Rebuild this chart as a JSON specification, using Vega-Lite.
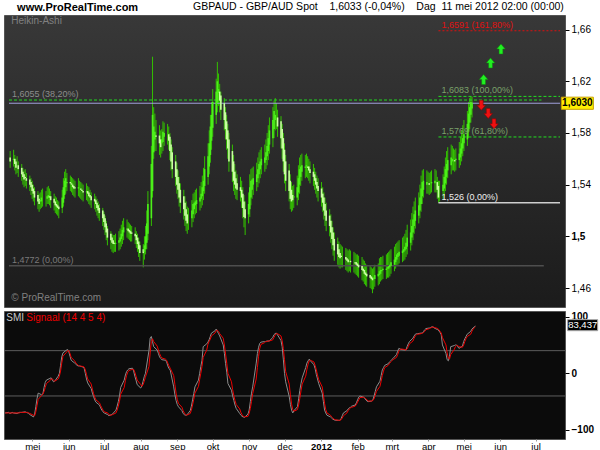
{
"$schema":"https://vega.github.io/schema/vega-lite/v6.json",
"background":"white",
"padding":{"left":2,"top":1,"right":0,"bottom":0},
"spacing":2,
"config":{"font":"Liberation Sans","view":{"stroke":"#555"},"axis":{"grid":false}},
"datasets":{
"ha":[
{"d":"2011-04-08","o":1.561,"h":1.566,"l":1.553,"c":1.558,"s":-70,"g":-70},
{"d":"2011-04-11","o":1.559,"h":1.567,"l":1.554,"c":1.560,"s":-69,"g":-70},
{"d":"2011-04-12","o":1.560,"h":1.563,"l":1.551,"c":1.556,"s":-71,"g":-70},
{"d":"2011-04-13","o":1.558,"h":1.560,"l":1.548,"c":1.553,"s":-70,"g":-70},
{"d":"2011-04-14","o":1.555,"h":1.562,"l":1.549,"c":1.555,"s":-69,"g":-70},
{"d":"2011-04-15","o":1.555,"h":1.558,"l":1.546,"c":1.552,"s":-70,"g":-70},
{"d":"2011-04-18","o":1.553,"h":1.556,"l":1.543,"c":1.548,"s":-71,"g":-70},
{"d":"2011-04-19","o":1.550,"h":1.553,"l":1.540,"c":1.546,"s":-70,"g":-70},
{"d":"2011-04-20","o":1.548,"h":1.551,"l":1.538,"c":1.544,"s":-69,"g":-70},
{"d":"2011-04-21","o":1.546,"h":1.552,"l":1.539,"c":1.545,"s":-69,"g":-69},
{"d":"2011-04-22","o":1.545,"h":1.549,"l":1.537,"c":1.543,"s":-69,"g":-69},
{"d":"2011-04-25","o":1.544,"h":1.547,"l":1.535,"c":1.540,"s":-68,"g":-69},
{"d":"2011-04-26","o":1.542,"h":1.545,"l":1.532,"c":1.538,"s":-69,"g":-69},
{"d":"2011-04-27","o":1.540,"h":1.543,"l":1.529,"c":1.535,"s":-70,"g":-69},
{"d":"2011-04-28","o":1.537,"h":1.540,"l":1.527,"c":1.533,"s":-71,"g":-70},
{"d":"2011-04-29","o":1.535,"h":1.538,"l":1.524,"c":1.530,"s":-73,"g":-71},
{"d":"2011-05-02","o":1.532,"h":1.535,"l":1.521,"c":1.527,"s":-77,"g":-74},
{"d":"2011-05-03","o":1.529,"h":1.533,"l":1.519,"c":1.525,"s":-72,"g":-75},
{"d":"2011-05-04","o":1.527,"h":1.534,"l":1.521,"c":1.528,"s":-59,"g":-68},
{"d":"2011-05-05","o":1.527,"h":1.536,"l":1.522,"c":1.530,"s":-45,"g":-57},
{"d":"2011-05-06","o":1.529,"h":1.537,"l":1.523,"c":1.529,"s":-35,"g":-46},
{"d":"2011-05-09","o":1.529,"h":1.535,"l":1.523,"c":1.529,"s":-38,"g":-39},
{"d":"2011-05-10","o":1.529,"h":1.538,"l":1.525,"c":1.531,"s":-36,"g":-37},
{"d":"2011-05-11","o":1.530,"h":1.539,"l":1.525,"c":1.532,"s":-25,"g":-32},
{"d":"2011-05-12","o":1.531,"h":1.537,"l":1.524,"c":1.530,"s":-16,"g":-25},
{"d":"2011-05-13","o":1.531,"h":1.535,"l":1.522,"c":1.528,"s":-12,"g":-18},
{"d":"2011-05-16","o":1.529,"h":1.533,"l":1.520,"c":1.526,"s":-9,"g":-13},
{"d":"2011-05-17","o":1.527,"h":1.531,"l":1.518,"c":1.524,"s":-8,"g":-10},
{"d":"2011-05-18","o":1.525,"h":1.530,"l":1.517,"c":1.523,"s":-12,"g":-10},
{"d":"2011-05-19","o":1.524,"h":1.528,"l":1.516,"c":1.522,"s":-15,"g":-12},
{"d":"2011-05-20","o":1.523,"h":1.527,"l":1.514,"c":1.521,"s":-14,"g":-14},
{"d":"2011-05-23","o":1.522,"h":1.536,"l":1.518,"c":1.530,"s":-5,"g":-10},
{"d":"2011-05-24","o":1.526,"h":1.545,"l":1.523,"c":1.538,"s":0,"g":-5},
{"d":"2011-05-25","o":1.532,"h":1.550,"l":1.529,"c":1.543,"s":14,"g":4},
{"d":"2011-05-26","o":1.538,"h":1.552,"l":1.533,"c":1.545,"s":29,"g":18},
{"d":"2011-05-27","o":1.541,"h":1.549,"l":1.535,"c":1.542,"s":36,"g":30},
{"d":"2011-05-30","o":1.542,"h":1.547,"l":1.535,"c":1.541,"s":41,"g":37},
{"d":"2011-05-31","o":1.541,"h":1.546,"l":1.534,"c":1.540,"s":42,"g":40},
{"d":"2011-06-01","o":1.540,"h":1.545,"l":1.532,"c":1.538,"s":38,"g":40},
{"d":"2011-06-02","o":1.539,"h":1.544,"l":1.531,"c":1.537,"s":30,"g":35},
{"d":"2011-06-03","o":1.538,"h":1.543,"l":1.530,"c":1.537,"s":23,"g":28},
{"d":"2011-06-06","o":1.537,"h":1.545,"l":1.531,"c":1.538,"s":18,"g":22},
{"d":"2011-06-07","o":1.537,"h":1.543,"l":1.530,"c":1.537,"s":16,"g":18},
{"d":"2011-06-08","o":1.537,"h":1.542,"l":1.529,"c":1.536,"s":14,"g":16},
{"d":"2011-06-09","o":1.536,"h":1.541,"l":1.528,"c":1.535,"s":13,"g":14},
{"d":"2011-06-10","o":1.535,"h":1.540,"l":1.527,"c":1.534,"s":13,"g":13},
{"d":"2011-06-13","o":1.534,"h":1.541,"l":1.528,"c":1.535,"s":11,"g":12},
{"d":"2011-06-14","o":1.535,"h":1.539,"l":1.527,"c":1.533,"s":9,"g":11},
{"d":"2011-06-15","o":1.534,"h":1.538,"l":1.525,"c":1.531,"s":0,"g":6},
{"d":"2011-06-16","o":1.532,"h":1.536,"l":1.524,"c":1.530,"s":-10,"g":-2},
{"d":"2011-06-17","o":1.531,"h":1.534,"l":1.522,"c":1.528,"s":-17,"g":-10},
{"d":"2011-06-20","o":1.529,"h":1.533,"l":1.521,"c":1.527,"s":-27,"g":-19},
{"d":"2011-06-21","o":1.528,"h":1.531,"l":1.519,"c":1.525,"s":-35,"g":-28},
{"d":"2011-06-22","o":1.526,"h":1.529,"l":1.516,"c":1.522,"s":-41,"g":-36},
{"d":"2011-06-23","o":1.524,"h":1.527,"l":1.514,"c":1.520,"s":-47,"g":-42},
{"d":"2011-06-24","o":1.522,"h":1.525,"l":1.512,"c":1.518,"s":-51,"g":-47},
{"d":"2011-06-27","o":1.520,"h":1.522,"l":1.508,"c":1.514,"s":-56,"g":-52},
{"d":"2011-06-28","o":1.517,"h":1.519,"l":1.505,"c":1.511,"s":-61,"g":-57},
{"d":"2011-06-29","o":1.514,"h":1.516,"l":1.501,"c":1.507,"s":-65,"g":-61},
{"d":"2011-06-30","o":1.510,"h":1.512,"l":1.497,"c":1.503,"s":-68,"g":-65},
{"d":"2011-07-01","o":1.506,"h":1.508,"l":1.493,"c":1.499,"s":-70,"g":-68},
{"d":"2011-07-04","o":1.502,"h":1.504,"l":1.490,"c":1.497,"s":-73,"g":-70},
{"d":"2011-07-05","o":1.499,"h":1.502,"l":1.488,"c":1.495,"s":-75,"g":-73},
{"d":"2011-07-06","o":1.497,"h":1.501,"l":1.487,"c":1.494,"s":-74,"g":-74},
{"d":"2011-07-07","o":1.495,"h":1.501,"l":1.488,"c":1.494,"s":-73,"g":-74},
{"d":"2011-07-08","o":1.494,"h":1.502,"l":1.488,"c":1.495,"s":-72,"g":-73},
{"d":"2011-07-11","o":1.495,"h":1.504,"l":1.489,"c":1.497,"s":-65,"g":-70},
{"d":"2011-07-12","o":1.496,"h":1.506,"l":1.490,"c":1.499,"s":-58,"g":-65},
{"d":"2011-07-13","o":1.498,"h":1.509,"l":1.492,"c":1.502,"s":-50,"g":-58},
{"d":"2011-07-14","o":1.500,"h":1.512,"l":1.494,"c":1.505,"s":-40,"g":-49},
{"d":"2011-07-15","o":1.503,"h":1.514,"l":1.497,"c":1.507,"s":-25,"g":-37},
{"d":"2011-07-18","o":1.505,"h":1.513,"l":1.499,"c":1.506,"s":-12,"g":-25},
{"d":"2011-07-19","o":1.506,"h":1.511,"l":1.498,"c":1.504,"s":-3,"g":-13},
{"d":"2011-07-20","o":1.505,"h":1.510,"l":1.497,"c":1.503,"s":3,"g":-4},
{"d":"2011-07-21","o":1.504,"h":1.509,"l":1.496,"c":1.502,"s":6,"g":2},
{"d":"2011-07-22","o":1.503,"h":1.508,"l":1.496,"c":1.502,"s":8,"g":5},
{"d":"2011-07-25","o":1.502,"h":1.507,"l":1.494,"c":1.500,"s":9,"g":7},
{"d":"2011-07-26","o":1.501,"h":1.504,"l":1.491,"c":1.497,"s":4,"g":7},
{"d":"2011-07-27","o":1.499,"h":1.502,"l":1.488,"c":1.494,"s":-5,"g":2},
{"d":"2011-07-28","o":1.496,"h":1.499,"l":1.484,"c":1.490,"s":-12,"g":-5},
{"d":"2011-07-29","o":1.493,"h":1.496,"l":1.481,"c":1.487,"s":-20,"g":-12},
{"d":"2011-08-01","o":1.490,"h":1.494,"l":1.476,"c":1.487,"s":-26,"g":-20},
{"d":"2011-08-02","o":1.488,"h":1.500,"l":1.482,"c":1.493,"s":-22,"g":-23},
{"d":"2011-08-03","o":1.490,"h":1.508,"l":1.486,"c":1.500,"s":-14,"g":-20},
{"d":"2011-08-04","o":1.495,"h":1.520,"l":1.490,"c":1.510,"s":-6,"g":-14},
{"d":"2011-08-05","o":1.502,"h":1.535,"l":1.497,"c":1.525,"s":0,"g":-7},
{"d":"2011-08-08","o":1.514,"h":1.570,"l":1.508,"c":1.556,"s":40,"g":12},
{"d":"2011-08-09","o":1.535,"h":1.639,"l":1.530,"c":1.594,"s":62,"g":36},
{"d":"2011-08-10","o":1.565,"h":1.600,"l":1.560,"c":1.585,"s":65,"g":56},
{"d":"2011-08-11","o":1.575,"h":1.595,"l":1.566,"c":1.581,"s":56,"g":61},
{"d":"2011-08-12","o":1.578,"h":1.590,"l":1.566,"c":1.577,"s":47,"g":56},
{"d":"2011-08-15","o":1.578,"h":1.586,"l":1.563,"c":1.572,"s":41,"g":48},
{"d":"2011-08-16","o":1.575,"h":1.582,"l":1.561,"c":1.569,"s":35,"g":41},
{"d":"2011-08-17","o":1.572,"h":1.583,"l":1.564,"c":1.575,"s":29,"g":35},
{"d":"2011-08-18","o":1.573,"h":1.589,"l":1.566,"c":1.581,"s":26,"g":30},
{"d":"2011-08-19","o":1.577,"h":1.588,"l":1.570,"c":1.580,"s":24,"g":27},
{"d":"2011-08-22","o":1.579,"h":1.587,"l":1.571,"c":1.579,"s":23,"g":25},
{"d":"2011-08-23","o":1.579,"h":1.585,"l":1.567,"c":1.574,"s":20,"g":23},
{"d":"2011-08-24","o":1.577,"h":1.580,"l":1.559,"c":1.566,"s":13,"g":18},
{"d":"2011-08-25","o":1.571,"h":1.575,"l":1.551,"c":1.558,"s":8,"g":13},
{"d":"2011-08-26","o":1.565,"h":1.569,"l":1.545,"c":1.552,"s":6,"g":9},
{"d":"2011-08-29","o":1.558,"h":1.563,"l":1.539,"c":1.546,"s":-24,"g":-4},
{"d":"2011-08-30","o":1.552,"h":1.557,"l":1.533,"c":1.540,"s":-38,"g":-20},
{"d":"2011-08-31","o":1.546,"h":1.551,"l":1.529,"c":1.536,"s":-48,"g":-35},
{"d":"2011-09-01","o":1.541,"h":1.546,"l":1.523,"c":1.530,"s":-55,"g":-46},
{"d":"2011-09-02","o":1.536,"h":1.541,"l":1.518,"c":1.526,"s":-59,"g":-53},
{"d":"2011-09-05","o":1.531,"h":1.536,"l":1.513,"c":1.521,"s":-66,"g":-60},
{"d":"2011-09-06","o":1.526,"h":1.531,"l":1.508,"c":1.516,"s":-71,"g":-66},
{"d":"2011-09-07","o":1.521,"h":1.527,"l":1.504,"c":1.512,"s":-73,"g":-70},
{"d":"2011-09-08","o":1.517,"h":1.523,"l":1.502,"c":1.510,"s":-74,"g":-73},
{"d":"2011-09-09","o":1.514,"h":1.522,"l":1.505,"c":1.514,"s":-74,"g":-74},
{"d":"2011-09-12","o":1.514,"h":1.528,"l":1.507,"c":1.520,"s":-66,"g":-71},
{"d":"2011-09-13","o":1.517,"h":1.533,"l":1.511,"c":1.525,"s":-58,"g":-65},
{"d":"2011-09-14","o":1.521,"h":1.534,"l":1.514,"c":1.526,"s":-47,"g":-56},
{"d":"2011-09-15","o":1.524,"h":1.536,"l":1.517,"c":1.527,"s":-36,"g":-46},
{"d":"2011-09-16","o":1.525,"h":1.537,"l":1.518,"c":1.528,"s":-24,"g":-35},
{"d":"2011-09-19","o":1.527,"h":1.539,"l":1.520,"c":1.530,"s":-12,"g":-23},
{"d":"2011-09-20","o":1.529,"h":1.542,"l":1.522,"c":1.533,"s":0,"g":-11},
{"d":"2011-09-21","o":1.531,"h":1.547,"l":1.524,"c":1.538,"s":12,"g":0},
{"d":"2011-09-22","o":1.535,"h":1.553,"l":1.528,"c":1.543,"s":23,"g":12},
{"d":"2011-09-23","o":1.539,"h":1.562,"l":1.533,"c":1.552,"s":47,"g":28},
{"d":"2011-09-26","o":1.546,"h":1.572,"l":1.540,"c":1.562,"s":52,"g":41},
{"d":"2011-09-27","o":1.554,"h":1.582,"l":1.548,"c":1.572,"s":55,"g":51},
{"d":"2011-09-28","o":1.563,"h":1.594,"l":1.557,"c":1.585,"s":59,"g":56},
{"d":"2011-09-29","o":1.574,"h":1.604,"l":1.567,"c":1.594,"s":65,"g":60},
{"d":"2011-09-30","o":1.584,"h":1.614,"l":1.577,"c":1.604,"s":71,"g":66},
{"d":"2011-10-03","o":1.594,"h":1.622,"l":1.587,"c":1.612,"s":75,"g":71},
{"d":"2011-10-04","o":1.603,"h":1.635,"l":1.596,"c":1.620,"s":78,"g":75},
{"d":"2011-10-05","o":1.611,"h":1.626,"l":1.601,"c":1.614,"s":74,"g":76},
{"d":"2011-10-06","o":1.612,"h":1.618,"l":1.596,"c":1.605,"s":70,"g":74},
{"d":"2011-10-07","o":1.609,"h":1.612,"l":1.590,"c":1.598,"s":66,"g":70},
{"d":"2011-10-10","o":1.603,"h":1.607,"l":1.582,"c":1.590,"s":50,"g":62},
{"d":"2011-10-11","o":1.596,"h":1.600,"l":1.575,"c":1.583,"s":35,"g":50},
{"d":"2011-10-12","o":1.589,"h":1.594,"l":1.567,"c":1.575,"s":17,"g":34},
{"d":"2011-10-13","o":1.582,"h":1.587,"l":1.560,"c":1.568,"s":2,"g":18},
{"d":"2011-10-14","o":1.575,"h":1.580,"l":1.550,"c":1.558,"s":-18,"g":0},
{"d":"2011-10-17","o":1.566,"h":1.571,"l":1.542,"c":1.550,"s":-30,"g":-15},
{"d":"2011-10-18","o":1.558,"h":1.563,"l":1.535,"c":1.543,"s":-40,"g":-29},
{"d":"2011-10-19","o":1.550,"h":1.556,"l":1.532,"c":1.540,"s":-48,"g":-39},
{"d":"2011-10-20","o":1.545,"h":1.551,"l":1.529,"c":1.537,"s":-56,"g":-48},
{"d":"2011-10-21","o":1.541,"h":1.548,"l":1.528,"c":1.536,"s":-62,"g":-55},
{"d":"2011-10-24","o":1.538,"h":1.546,"l":1.527,"c":1.535,"s":-71,"g":-63},
{"d":"2011-10-25","o":1.536,"h":1.543,"l":1.522,"c":1.530,"s":-74,"g":-69},
{"d":"2011-10-26","o":1.533,"h":1.538,"l":1.514,"c":1.522,"s":-76,"g":-73},
{"d":"2011-10-27","o":1.527,"h":1.532,"l":1.507,"c":1.515,"s":-77,"g":-76},
{"d":"2011-10-28","o":1.521,"h":1.527,"l":1.501,"c":1.514,"s":-78,"g":-77},
{"d":"2011-10-31","o":1.517,"h":1.534,"l":1.510,"c":1.525,"s":-72,"g":-76},
{"d":"2011-11-01","o":1.521,"h":1.548,"l":1.515,"c":1.538,"s":-65,"g":-71},
{"d":"2011-11-02","o":1.530,"h":1.552,"l":1.524,"c":1.543,"s":-50,"g":-62},
{"d":"2011-11-03","o":1.536,"h":1.553,"l":1.529,"c":1.544,"s":-35,"g":-50},
{"d":"2011-11-04","o":1.540,"h":1.554,"l":1.532,"c":1.545,"s":-24,"g":-36},
{"d":"2011-11-07","o":1.542,"h":1.557,"l":1.535,"c":1.548,"s":18,"g":-10},
{"d":"2011-11-08","o":1.545,"h":1.561,"l":1.538,"c":1.552,"s":35,"g":10},
{"d":"2011-11-09","o":1.548,"h":1.565,"l":1.541,"c":1.556,"s":46,"g":30},
{"d":"2011-11-10","o":1.552,"h":1.567,"l":1.545,"c":1.558,"s":53,"g":44},
{"d":"2011-11-11","o":1.555,"h":1.569,"l":1.548,"c":1.560,"s":55,"g":51},
{"d":"2011-11-14","o":1.557,"h":1.571,"l":1.550,"c":1.561,"s":56,"g":54},
{"d":"2011-11-15","o":1.559,"h":1.575,"l":1.552,"c":1.565,"s":56,"g":56},
{"d":"2011-11-16","o":1.562,"h":1.580,"l":1.555,"c":1.570,"s":57,"g":56},
{"d":"2011-11-17","o":1.566,"h":1.586,"l":1.559,"c":1.576,"s":57,"g":57},
{"d":"2011-11-18","o":1.571,"h":1.592,"l":1.564,"c":1.582,"s":57,"g":57},
{"d":"2011-11-21","o":1.576,"h":1.600,"l":1.569,"c":1.590,"s":63,"g":59},
{"d":"2011-11-22","o":1.583,"h":1.605,"l":1.576,"c":1.597,"s":68,"g":63},
{"d":"2011-11-23","o":1.590,"h":1.607,"l":1.582,"c":1.594,"s":70,"g":67},
{"d":"2011-11-24","o":1.592,"h":1.603,"l":1.583,"c":1.592,"s":71,"g":70},
{"d":"2011-11-25","o":1.592,"h":1.598,"l":1.577,"c":1.585,"s":68,"g":70},
{"d":"2011-11-28","o":1.589,"h":1.593,"l":1.568,"c":1.576,"s":58,"g":66},
{"d":"2011-11-29","o":1.583,"h":1.587,"l":1.560,"c":1.568,"s":47,"g":58},
{"d":"2011-11-30","o":1.576,"h":1.580,"l":1.550,"c":1.558,"s":25,"g":44},
{"d":"2011-12-01","o":1.567,"h":1.572,"l":1.541,"c":1.548,"s":0,"g":24},
{"d":"2011-12-02","o":1.558,"h":1.563,"l":1.535,"c":1.543,"s":-15,"g":3},
{"d":"2011-12-05","o":1.551,"h":1.556,"l":1.527,"c":1.535,"s":-41,"g":-19},
{"d":"2011-12-06","o":1.543,"h":1.548,"l":1.521,"c":1.529,"s":-55,"g":-38},
{"d":"2011-12-07","o":1.536,"h":1.542,"l":1.519,"c":1.527,"s":-65,"g":-54},
{"d":"2011-12-08","o":1.532,"h":1.539,"l":1.520,"c":1.528,"s":-70,"g":-64},
{"d":"2011-12-09","o":1.530,"h":1.540,"l":1.522,"c":1.531,"s":-66,"g":-67},
{"d":"2011-12-12","o":1.530,"h":1.547,"l":1.524,"c":1.538,"s":-59,"g":-64},
{"d":"2011-12-13","o":1.534,"h":1.555,"l":1.528,"c":1.545,"s":-45,"g":-56},
{"d":"2011-12-14","o":1.540,"h":1.561,"l":1.533,"c":1.552,"s":-30,"g":-44},
{"d":"2011-12-15","o":1.546,"h":1.563,"l":1.539,"c":1.554,"s":-18,"g":-31},
{"d":"2011-12-16","o":1.550,"h":1.564,"l":1.543,"c":1.555,"s":-8,"g":-19},
{"d":"2011-12-19","o":1.553,"h":1.563,"l":1.545,"c":1.554,"s":10,"g":-5},
{"d":"2011-12-20","o":1.554,"h":1.564,"l":1.546,"c":1.555,"s":18,"g":7},
{"d":"2011-12-21","o":1.554,"h":1.562,"l":1.545,"c":1.553,"s":22,"g":16},
{"d":"2011-12-22","o":1.554,"h":1.560,"l":1.543,"c":1.551,"s":25,"g":22},
{"d":"2011-12-23","o":1.552,"h":1.558,"l":1.541,"c":1.549,"s":22,"g":23},
{"d":"2011-12-26","o":1.550,"h":1.556,"l":1.539,"c":1.546,"s":15,"g":20},
{"d":"2011-12-27","o":1.548,"h":1.553,"l":1.536,"c":1.543,"s":8,"g":14},
{"d":"2011-12-28","o":1.545,"h":1.550,"l":1.533,"c":1.540,"s":-2,"g":6},
{"d":"2011-12-29","o":1.542,"h":1.547,"l":1.530,"c":1.537,"s":-10,"g":-3},
{"d":"2011-12-30","o":1.539,"h":1.545,"l":1.527,"c":1.535,"s":-18,"g":-11},
{"d":"2012-01-02","o":1.537,"h":1.542,"l":1.523,"c":1.530,"s":-35,"g":-24},
{"d":"2012-01-03","o":1.533,"h":1.538,"l":1.519,"c":1.526,"s":-50,"g":-38},
{"d":"2012-01-04","o":1.530,"h":1.534,"l":1.513,"c":1.520,"s":-65,"g":-53},
{"d":"2012-01-05","o":1.525,"h":1.530,"l":1.508,"c":1.516,"s":-70,"g":-64},
{"d":"2012-01-06","o":1.520,"h":1.526,"l":1.504,"c":1.512,"s":-74,"g":-70},
{"d":"2012-01-09","o":1.516,"h":1.521,"l":1.500,"c":1.508,"s":-77,"g":-74},
{"d":"2012-01-10","o":1.512,"h":1.517,"l":1.495,"c":1.503,"s":-79,"g":-77},
{"d":"2012-01-11","o":1.507,"h":1.512,"l":1.490,"c":1.498,"s":-81,"g":-79},
{"d":"2012-01-12","o":1.503,"h":1.507,"l":1.485,"c":1.493,"s":-82,"g":-81},
{"d":"2012-01-13","o":1.498,"h":1.503,"l":1.481,"c":1.489,"s":-83,"g":-82},
{"d":"2012-01-16","o":1.494,"h":1.499,"l":1.478,"c":1.486,"s":-83,"g":-83},
{"d":"2012-01-17","o":1.490,"h":1.496,"l":1.476,"c":1.484,"s":-83,"g":-83},
{"d":"2012-01-18","o":1.487,"h":1.494,"l":1.475,"c":1.483,"s":-80,"g":-82},
{"d":"2012-01-19","o":1.485,"h":1.493,"l":1.476,"c":1.484,"s":-75,"g":-79},
{"d":"2012-01-20","o":1.484,"h":1.492,"l":1.476,"c":1.484,"s":-70,"g":-75},
{"d":"2012-01-23","o":1.484,"h":1.491,"l":1.474,"c":1.482,"s":-66,"g":-70},
{"d":"2012-01-24","o":1.483,"h":1.490,"l":1.473,"c":1.481,"s":-63,"g":-66},
{"d":"2012-01-25","o":1.482,"h":1.489,"l":1.472,"c":1.480,"s":-61,"g":-63},
{"d":"2012-01-26","o":1.481,"h":1.490,"l":1.473,"c":1.481,"s":-60,"g":-61},
{"d":"2012-01-27","o":1.481,"h":1.489,"l":1.472,"c":1.480,"s":-58,"g":-60},
{"d":"2012-01-30","o":1.480,"h":1.488,"l":1.472,"c":1.480,"s":-56,"g":-58},
{"d":"2012-01-31","o":1.480,"h":1.487,"l":1.471,"c":1.479,"s":-52,"g":-55},
{"d":"2012-02-01","o":1.480,"h":1.486,"l":1.470,"c":1.478,"s":-47,"g":-51},
{"d":"2012-02-02","o":1.479,"h":1.486,"l":1.469,"c":1.477,"s":-42,"g":-47},
{"d":"2012-02-03","o":1.478,"h":1.485,"l":1.468,"c":1.476,"s":-40,"g":-43},
{"d":"2012-02-06","o":1.477,"h":1.484,"l":1.466,"c":1.474,"s":-42,"g":-42},
{"d":"2012-02-07","o":1.475,"h":1.482,"l":1.465,"c":1.473,"s":-44,"g":-43},
{"d":"2012-02-08","o":1.474,"h":1.481,"l":1.463,"c":1.471,"s":-47,"g":-45},
{"d":"2012-02-09","o":1.472,"h":1.479,"l":1.462,"c":1.470,"s":-49,"g":-47},
{"d":"2012-02-10","o":1.471,"h":1.478,"l":1.461,"c":1.469,"s":-50,"g":-49},
{"d":"2012-02-13","o":1.470,"h":1.477,"l":1.460,"c":1.468,"s":-49,"g":-49},
{"d":"2012-02-14","o":1.469,"h":1.476,"l":1.459,"c":1.467,"s":-47,"g":-48},
{"d":"2012-02-15","o":1.468,"h":1.475,"l":1.456,"c":1.466,"s":-40,"g":-45},
{"d":"2012-02-16","o":1.467,"h":1.476,"l":1.459,"c":1.468,"s":-32,"g":-39},
{"d":"2012-02-17","o":1.467,"h":1.478,"l":1.461,"c":1.470,"s":-24,"g":-32},
{"d":"2012-02-20","o":1.469,"h":1.479,"l":1.462,"c":1.471,"s":-14,"g":-23},
{"d":"2012-02-21","o":1.470,"h":1.483,"l":1.463,"c":1.473,"s":-4,"g":-14},
{"d":"2012-02-22","o":1.471,"h":1.484,"l":1.465,"c":1.474,"s":6,"g":-4},
{"d":"2012-02-23","o":1.473,"h":1.484,"l":1.466,"c":1.474,"s":10,"g":4},
{"d":"2012-02-24","o":1.474,"h":1.485,"l":1.467,"c":1.475,"s":14,"g":10},
{"d":"2012-02-27","o":1.474,"h":1.486,"l":1.467,"c":1.475,"s":17,"g":14},
{"d":"2012-02-28","o":1.475,"h":1.487,"l":1.468,"c":1.476,"s":20,"g":17},
{"d":"2012-02-29","o":1.475,"h":1.488,"l":1.468,"c":1.477,"s":22,"g":20},
{"d":"2012-03-01","o":1.476,"h":1.489,"l":1.469,"c":1.478,"s":24,"g":22},
{"d":"2012-03-02","o":1.477,"h":1.490,"l":1.471,"c":1.480,"s":26,"g":24},
{"d":"2012-03-05","o":1.478,"h":1.492,"l":1.473,"c":1.482,"s":33,"g":28},
{"d":"2012-03-06","o":1.480,"h":1.494,"l":1.475,"c":1.484,"s":39,"g":33},
{"d":"2012-03-07","o":1.482,"h":1.495,"l":1.477,"c":1.486,"s":44,"g":39},
{"d":"2012-03-08","o":1.484,"h":1.496,"l":1.478,"c":1.487,"s":43,"g":42},
{"d":"2012-03-09","o":1.485,"h":1.497,"l":1.479,"c":1.488,"s":42,"g":43},
{"d":"2012-03-12","o":1.487,"h":1.499,"l":1.480,"c":1.489,"s":41,"g":42},
{"d":"2012-03-13","o":1.488,"h":1.500,"l":1.481,"c":1.490,"s":41,"g":41},
{"d":"2012-03-14","o":1.489,"h":1.502,"l":1.482,"c":1.492,"s":47,"g":43},
{"d":"2012-03-15","o":1.490,"h":1.505,"l":1.484,"c":1.495,"s":52,"g":47},
{"d":"2012-03-16","o":1.492,"h":1.509,"l":1.486,"c":1.499,"s":56,"g":52},
{"d":"2012-03-19","o":1.495,"h":1.513,"l":1.489,"c":1.503,"s":62,"g":57},
{"d":"2012-03-20","o":1.499,"h":1.518,"l":1.493,"c":1.508,"s":66,"g":62},
{"d":"2012-03-21","o":1.503,"h":1.523,"l":1.497,"c":1.513,"s":69,"g":66},
{"d":"2012-03-22","o":1.508,"h":1.527,"l":1.502,"c":1.517,"s":70,"g":68},
{"d":"2012-03-23","o":1.512,"h":1.530,"l":1.506,"c":1.520,"s":70,"g":69},
{"d":"2012-03-26","o":1.516,"h":1.534,"l":1.510,"c":1.524,"s":71,"g":70},
{"d":"2012-03-27","o":1.520,"h":1.540,"l":1.514,"c":1.530,"s":71,"g":71},
{"d":"2012-03-28","o":1.525,"h":1.547,"l":1.519,"c":1.537,"s":74,"g":72},
{"d":"2012-03-29","o":1.531,"h":1.551,"l":1.525,"c":1.542,"s":77,"g":74},
{"d":"2012-03-30","o":1.536,"h":1.552,"l":1.530,"c":1.543,"s":79,"g":77},
{"d":"2012-04-02","o":1.540,"h":1.551,"l":1.533,"c":1.542,"s":80,"g":79},
{"d":"2012-04-03","o":1.541,"h":1.550,"l":1.533,"c":1.541,"s":81,"g":80},
{"d":"2012-04-04","o":1.541,"h":1.549,"l":1.532,"c":1.540,"s":82,"g":81},
{"d":"2012-04-05","o":1.541,"h":1.550,"l":1.533,"c":1.541,"s":82,"g":82},
{"d":"2012-04-06","o":1.541,"h":1.551,"l":1.534,"c":1.542,"s":80,"g":81},
{"d":"2012-04-09","o":1.541,"h":1.552,"l":1.534,"c":1.543,"s":77,"g":79},
{"d":"2012-04-10","o":1.542,"h":1.551,"l":1.534,"c":1.542,"s":75,"g":77},
{"d":"2012-04-11","o":1.542,"h":1.546,"l":1.529,"c":1.536,"s":72,"g":74},
{"d":"2012-04-12","o":1.539,"h":1.543,"l":1.526,"c":1.530,"s":68,"g":71},
{"d":"2012-04-13","o":1.535,"h":1.543,"l":1.527,"c":1.535,"s":50,"g":63},
{"d":"2012-04-16","o":1.535,"h":1.548,"l":1.529,"c":1.540,"s":35,"g":50},
{"d":"2012-04-17","o":1.537,"h":1.554,"l":1.531,"c":1.546,"s":24,"g":36},
{"d":"2012-04-18","o":1.541,"h":1.561,"l":1.535,"c":1.552,"s":22,"g":27},
{"d":"2012-04-19","o":1.546,"h":1.566,"l":1.540,"c":1.556,"s":30,"g":25},
{"d":"2012-04-20","o":1.551,"h":1.569,"l":1.545,"c":1.559,"s":47,"g":33},
{"d":"2012-04-23","o":1.555,"h":1.571,"l":1.548,"c":1.561,"s":49,"g":42},
{"d":"2012-04-24","o":1.558,"h":1.570,"l":1.551,"c":1.560,"s":50,"g":47},
{"d":"2012-04-25","o":1.559,"h":1.568,"l":1.551,"c":1.559,"s":50,"g":49},
{"d":"2012-04-26","o":1.559,"h":1.567,"l":1.550,"c":1.558,"s":47,"g":49},
{"d":"2012-04-27","o":1.559,"h":1.568,"l":1.551,"c":1.560,"s":44,"g":47},
{"d":"2012-04-30","o":1.559,"h":1.573,"l":1.553,"c":1.564,"s":48,"g":46},
{"d":"2012-05-01","o":1.561,"h":1.577,"l":1.555,"c":1.568,"s":56,"g":50},
{"d":"2012-05-02","o":1.564,"h":1.582,"l":1.558,"c":1.572,"s":61,"g":56},
{"d":"2012-05-03","o":1.568,"h":1.586,"l":1.562,"c":1.576,"s":65,"g":61},
{"d":"2012-05-04","o":1.572,"h":1.590,"l":1.566,"c":1.579,"s":69,"g":65},
{"d":"2012-05-07","o":1.575,"h":1.597,"l":1.570,"c":1.587,"s":74,"g":69},
{"d":"2012-05-08","o":1.581,"h":1.604,"l":1.576,"c":1.595,"s":78,"g":74},
{"d":"2012-05-09","o":1.588,"h":1.607,"l":1.583,"c":1.600,"s":80,"g":78},
{"d":"2012-05-10","o":1.594,"h":1.6083,"l":1.588,"c":1.604,"s":82,"g":80},
{"d":"2012-05-11","o":1.599,"h":1.608,"l":1.592,"c":1.6033,"s":83.4,"g":82}
],
"lv":[
{"g":"p","a":"2011-04-07","b":"2012-07-26","y":1.603,"t":""},
{"g":"l","a":"2011-04-07","b":"2012-07-10","y":1.6055,"t":"1,6055 (38,20%)"},
{"g":"w","a":"2011-04-07","b":"2012-07-12","y":1.4772,"t":"1,4772 (0,00%)"},
{"g":"r","a":"2012-04-12","b":"2012-07-26","y":1.6591,"t":"1,6591 (161,80%)"},
{"g":"f","a":"2012-04-12","b":"2012-07-26","y":1.6083,"t":"1,6083 (100,00%)"},
{"g":"f","a":"2012-04-12","b":"2012-07-26","y":1.5769,"t":"1,5769 (61,80%)"},
{"g":"z","a":"2012-04-12","b":"2012-07-26","y":1.526,"t":"1,526 (0,00%)"}
],
"ar":[
{"d":"2012-05-21","y":1.6214,"k":"u"},
{"d":"2012-05-27","y":1.6342,"k":"u"},
{"d":"2012-06-05","y":1.645,"k":"u"},
{"d":"2012-05-19","y":1.6015,"k":"n"},
{"d":"2012-05-25","y":1.5951,"k":"n"},
{"d":"2012-05-30","y":1.5871,"k":"n"}
],
"nt":[
{"k":"ha","d":"2011-04-09","y":1.6664,"t":"Heikin-Ashi"},
{"k":"pr","d":"2011-04-09","y":1.4519,"t":"© ProRealTime.com"},
{"k":"h1","d":"2011-04-14","y":1.6713,"t":"www.ProRealTime.com"},
{"k":"h2","d":"2011-09-13","y":1.6713,"t":"GBPAUD - GBP/AUD Spot\u00a0\u00a0\u00a0 1,6033 (-0,04%)\u00a0\u00a0\u00a0 Dag\u00a0 11 mei 2012 02:00 (00:00)"},
{"k":"tag","d":"2012-08-10","y":1.603,"t":"1,6030"}
],
"bt":[
{"k":"smi","d":"2011-04-09","v":97.7,"t":"SMI"},
{"k":"sig","d":"2011-04-09","v":97.7,"t":"Signaal (14 4 5 4)"},
{"k":"tag","d":"2012-08-10","v":85,"t":"83,437"}
]
},
"vconcat":[
{
"width":561,"height":292,
"view":{"fill":{"gradient":"linear","x1":0,"y1":0,"x2":0,"y2":1,"stops":[{"offset":0,"color":"#383838"},{"offset":1,"color":"#1b1b1b"}]},"stroke":"#555"},
"layer":[
{"data":{"name":"ha"},"mark":{"type":"rule","color":"#33c000","strokeWidth":1},
 "encoding":{
  "x":{"field":"d","type":"temporal","scale":{"type":"utc","domain":[{"year":2011,"month":4,"date":7,"utc":true},{"year":2012,"month":7,"date":26,"utc":true}]},"axis":null},
  "y":{"field":"l","type":"quantitative","scale":{"domain":[1.4453,1.6713],"nice":false,"zero":false},
   "axis":{"orient":"right","title":null,"domain":false,"grid":false,"values":[1.46,1.47,1.48,1.49,1.5,1.51,1.52,1.53,1.54,1.55,1.56,1.57,1.58,1.59,1.6,1.61,1.62,1.63,1.64,1.65,1.66],
    "labelExpr":"round(datum.value*100)%10==0 ? replace(format(datum.value,'.1f'),'.',',') : (round(datum.value*100)%2==0 ? replace(format(datum.value,'.2f'),'.',',') : '')",
    "labelFontWeight":{"condition":{"test":"round(datum.value*100)%10==0","value":"bold"},"value":"normal"},
    "labelFontSize":10,"labelColor":"#000","tickColor":"#000","tickSize":4,"labelPadding":2}},
  "y2":{"field":"h"}}},
{"data":{"name":"lv"},"transform":[{"filter":"datum.g=='p'"}],"mark":{"type":"rule","color":"#a0a0dc","strokeWidth":1},
 "encoding":{"x":{"field":"a","type":"temporal"},"x2":{"field":"b"},"y":{"field":"y","type":"quantitative"}}},
{"data":{"name":"lv"},"transform":[{"filter":"datum.g=='l' || datum.g=='f'"}],"mark":{"type":"rule","color":"#22dd22","strokeWidth":1,"strokeDash":[3,2]},
 "encoding":{"x":{"field":"a","type":"temporal"},"x2":{"field":"b"},"y":{"field":"y","type":"quantitative"}}},
{"data":{"name":"lv"},"transform":[{"filter":"datum.g=='r'"}],"mark":{"type":"rule","color":"#dd1111","strokeWidth":1,"strokeDash":[2,2]},
 "encoding":{"x":{"field":"a","type":"temporal"},"x2":{"field":"b"},"y":{"field":"y","type":"quantitative"}}},
{"data":{"name":"lv"},"transform":[{"filter":"datum.g=='w'"}],"mark":{"type":"rule","color":"#4e4e4e","strokeWidth":1.5},
 "encoding":{"x":{"field":"a","type":"temporal"},"x2":{"field":"b"},"y":{"field":"y","type":"quantitative"}}},
{"data":{"name":"lv"},"transform":[{"filter":"datum.g=='z'"}],"mark":{"type":"rule","color":"#cfcfcf","strokeWidth":1.5},
 "encoding":{"x":{"field":"a","type":"temporal"},"x2":{"field":"b"},"y":{"field":"y","type":"quantitative"}}},
{"data":{"name":"ha"},"mark":{"type":"bar","width":1.6},
 "encoding":{"x":{"field":"d","type":"temporal"},"y":{"field":"o","type":"quantitative"},"y2":{"field":"c"},
  "color":{"condition":{"test":"datum.c >= datum.o","value":"#4cf01a"},"value":"#c8ffa0"}}},
{"data":{"name":"lv"},"transform":[{"filter":"datum.g!='p'"}],"mark":{"type":"text","align":"left","baseline":"bottom","dx":3,"dy":-1,"fontSize":9},
 "encoding":{"x":{"field":"a","type":"temporal"},"y":{"field":"y","type":"quantitative"},"text":{"field":"t"},
  "color":{"field":"g","type":"nominal","scale":{"domain":["l","w","r","f","z"],"range":["#8c8c8c","#7a7a7a","#e01010","#7aa06a","#eeeeee"]},"legend":null}}},
{"data":{"name":"ar"},"transform":[{"filter":"datum.k=='u'"}],"mark":{"type":"point","filled":true,"size":100,"opacity":1,"shape":"M0,-1L0.85,0L0.38,0L0.38,1L-0.38,1L-0.38,0L-0.85,0Z","color":"#22ee22","stroke":"#0a8a0a","strokeWidth":0.5},
 "encoding":{"x":{"field":"d","type":"temporal"},"y":{"field":"y","type":"quantitative"}}},
{"data":{"name":"ar"},"transform":[{"filter":"datum.k=='n'"}],"mark":{"type":"point","filled":true,"size":100,"opacity":1,"shape":"M0,1L0.85,0L0.38,0L0.38,-1L-0.38,-1L-0.38,0L-0.85,0Z","color":"#ee1111","stroke":"#880000","strokeWidth":0.5},
 "encoding":{"x":{"field":"d","type":"temporal"},"y":{"field":"y","type":"quantitative"}}},
{"data":{"name":"nt"},"transform":[{"filter":"datum.k=='tag'"}],"mark":{"type":"point","filled":true,"size":1024,"opacity":1,"shape":"M-1,-0.38L1,-0.38L1,0.38L-1,0.38Z","color":"#ffee00","stroke":"#c8a000","strokeWidth":1},
 "encoding":{"x":{"field":"d","type":"temporal"},"y":{"field":"y","type":"quantitative"}}},
{"data":{"name":"nt"},"transform":[{"filter":"datum.k=='tag'"}],"mark":{"type":"text","fontSize":10,"fontWeight":"bold","color":"#000","baseline":"middle","align":"center"},
 "encoding":{"x":{"field":"d","type":"temporal"},"y":{"field":"y","type":"quantitative"},"text":{"field":"t"}}},
{"data":{"name":"nt"},"transform":[{"filter":"datum.k=='ha' || datum.k=='pr'"}],"mark":{"type":"text","fontSize":10,"color":"#808080","baseline":"middle","align":"left"},
 "encoding":{"x":{"field":"d","type":"temporal"},"y":{"field":"y","type":"quantitative"},"text":{"field":"t"}}},
{"data":{"name":"nt"},"transform":[{"filter":"datum.k=='h1'"}],"mark":{"type":"text","fontSize":11,"fontWeight":"bold","color":"#000","baseline":"top","align":"left","dy":-13},
 "encoding":{"x":{"field":"d","type":"temporal"},"y":{"field":"y","type":"quantitative"},"text":{"field":"t"}}},
{"data":{"name":"nt"},"transform":[{"filter":"datum.k=='h2'"}],"mark":{"type":"text","fontSize":10.5,"color":"#000","baseline":"top","align":"left","dy":-13},
 "encoding":{"x":{"field":"d","type":"temporal"},"y":{"field":"y","type":"quantitative"},"text":{"field":"t"}}}
]
},
{
"width":561,"height":128,
"view":{"fill":"#0b0b0b","stroke":"#555"},
"layer":[
{"data":{"values":[{"v":40},{"v":-40}]},"mark":{"type":"rule","color":"#5c5c5c","strokeWidth":1},
 "encoding":{"y":{"field":"v","type":"quantitative"}}},
{"data":{"name":"ha"},"mark":{"type":"line","color":"#8c8c8c","strokeWidth":1},
 "encoding":{
  "x":{"field":"d","type":"temporal","scale":{"type":"utc","domain":[{"year":2011,"month":4,"date":7,"utc":true},{"year":2012,"month":7,"date":26,"utc":true}]},
   "axis":{"orient":"bottom","title":null,"domain":false,"grid":false,"tickCount":{"interval":"month","step":1},
    "labelExpr":"utcmonth(datum.value)==0 ? ''+utcyear(datum.value) : ['jan','feb','mrt','apr','mei','jun','jul','aug','sep','okt','nov','dec'][utcmonth(datum.value)]",
    "labelFontWeight":{"condition":{"test":"utcmonth(datum.value)==0","value":"bold"},"value":"normal"},
    "labelFontSize":9.5,"labelColor":"#000","tickColor":"#999","tickSize":2,"labelPadding":0,"labelFlush":false,"labelOverlap":false}},
  "y":{"field":"s","type":"quantitative","scale":{"domain":[-116,110],"nice":false,"zero":false},
   "axis":{"orient":"right","title":null,"domain":false,"grid":false,"values":[-100,-75,-50,-25,0,25,50,75,100],
    "labelExpr":"datum.value%50==0 ? format(datum.value,'d') : ''",
    "labelFontWeight":{"condition":{"test":"datum.value%100==0","value":"bold"},"value":"normal"},
    "labelFontSize":10,"labelColor":"#000","tickColor":"#000","tickSize":4,"labelPadding":2}}}},
{"data":{"name":"ha"},"mark":{"type":"line","color":"#ee0000","strokeWidth":1},
 "encoding":{"x":{"field":"d","type":"temporal"},"y":{"field":"g","type":"quantitative"}}},
{"data":{"name":"bt"},"transform":[{"filter":"datum.k=='tag'"}],"mark":{"type":"point","filled":true,"size":900,"opacity":1,"shape":"M-1,-0.37L1,-0.37L1,0.37L-1,0.37Z","color":"#000","stroke":"#aaaaaa","strokeWidth":1},
 "encoding":{"x":{"field":"d","type":"temporal"},"y":{"field":"v","type":"quantitative"}}},
{"data":{"name":"bt"},"transform":[{"filter":"datum.k=='tag'"}],"mark":{"type":"text","fontSize":9.5,"color":"#fff","baseline":"middle","align":"center"},
 "encoding":{"x":{"field":"d","type":"temporal"},"y":{"field":"v","type":"quantitative"},"text":{"field":"t"}}},
{"data":{"name":"bt"},"transform":[{"filter":"datum.k=='smi'"}],"mark":{"type":"text","fontSize":10,"color":"#c8c8c8","baseline":"middle","align":"left"},
 "encoding":{"x":{"field":"d","type":"temporal"},"y":{"field":"v","type":"quantitative"},"text":{"field":"t"}}},
{"data":{"name":"bt"},"transform":[{"filter":"datum.k=='sig'"}],"mark":{"type":"text","fontSize":10,"color":"#ee0000","baseline":"middle","align":"left","dx":20},
 "encoding":{"x":{"field":"d","type":"temporal"},"y":{"field":"v","type":"quantitative"},"text":{"field":"t"}}}
]
}
]
}
